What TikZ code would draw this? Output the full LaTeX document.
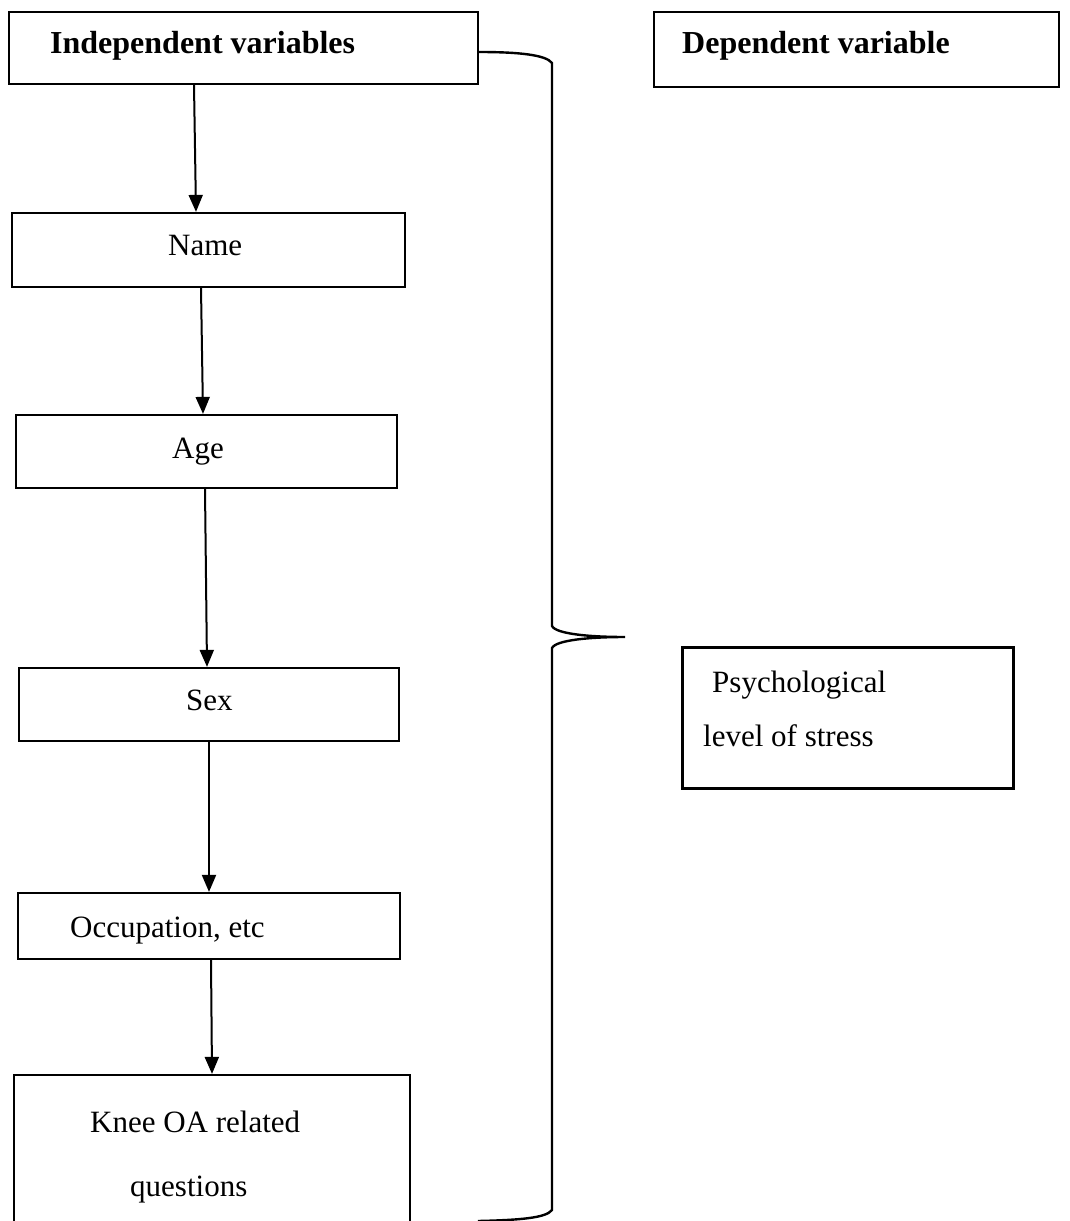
\documentclass[tikz,border=0pt]{standalone}
\usepackage{fontspec}
\setmainfont{Liberation Serif}
\usetikzlibrary{arrows.meta}
\tikzset{
  box/.style={draw, line width=2.2pt, inner sep=0pt},
  lbl/.style={anchor=base west, inner sep=0pt, font=\fontsize{31}{37}\selectfont},
  hdr/.style={anchor=base west, inner sep=0pt, font=\fontsize{32}{38}\selectfont\bfseries},
  arr/.style={line width=2pt, -{Triangle[width=14pt,length=17pt]}},
  brc/.style={line width=2.4pt}
}
\newcommand{\bx}[5]{\node[box, minimum width=#4-#2, minimum height=#5-#3] (#1) at ({(#2+#4)/2},{(#3+#5)/2}) {};}
\begin{document}
\begin{tikzpicture}[x=1pt,y=-1pt]
\useasboundingbox (0,0) rectangle (1069,1221);
\begin{scope}
\clip (0,0) rectangle (1069,1221);
\bx{ind}{9}{12}{478}{84}
\bx{dep}{654}{12}{1059}{87}
\bx{name}{12}{213}{405}{287}
\bx{age}{16}{415}{397}{488}
\bx{sex}{19}{668}{399}{741}
\bx{occ}{18}{893}{400}{959}
\bx{knee}{14}{1075}{410}{1240}
\node[box, line width=3pt, minimum width=331, minimum height=141] (psy) at (847.5,717.5) {};

\node[hdr] (tind) at (50,53) {Independent variables};
\node[hdr] (tdep) at (682,53) {Dependent variable};
\node[lbl] (tname) at (168,255) {Name};
\node[lbl] (tage) at (172,458) {Age};
\node[lbl] (tsex) at (186,710) {Sex};
\node[lbl] (tocc) at (70,937) {Occupation, etc};
\node[lbl] (tknee1) at (90,1132) {Knee OA related};
\node[lbl] (tknee2) at (130,1196) {questions};
\node[lbl] (tpsy1) at (712,692) {Psychological};
\node[lbl] (tpsy2) at (703,746) {level of stress};

\draw[arr] (ind.south -| 194,0) -- (name.north -| 196,0);
\draw[arr] (name.south -| 201,0) -- (age.north -| 203,0);
\draw[arr] (age.south -| 205,0) -- (sex.north -| 207,0);
\draw[arr] (sex.south -| 209,0) -- (occ.north -| 209,0);
\draw[arr] (occ.south -| 211,0) -- (knee.north -| 212,0);

\coordinate (tip) at (625,637);
\draw[brc] (ind.east |- 0,52) .. controls (520,52) and (546,55) .. (552,63)
  -- (552,626) .. controls (556,634) and (590,637) .. (tip)
  .. controls (590,637) and (556,640) .. (552,648)
  -- (552,1210) .. controls (546,1218) and (520,1220) .. (478,1221);
\end{scope}
\end{tikzpicture}
\end{document}
